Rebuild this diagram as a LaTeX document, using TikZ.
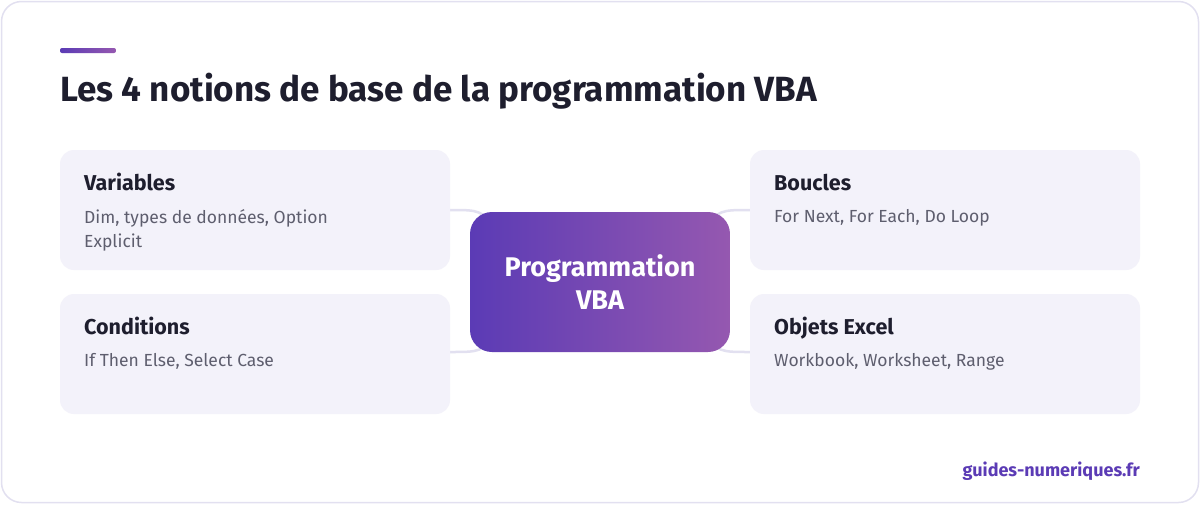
\documentclass[tikz,border=0pt]{standalone}
\usepackage{fontspec}
\setmainfont{Fira Sans}
\definecolor{cardbg}{HTML}{F3F2FA}
\definecolor{edge}{HTML}{E2E0F0}
\definecolor{dark}{HTML}{1E1E2E}
\definecolor{grey}{HTML}{5E5E6E}
\definecolor{pA}{HTML}{5B3BB5}
\definecolor{pB}{HTML}{9558B0}
\begin{document}
\begin{tikzpicture}[x=1pt,y=-1pt,
 card/.style={fill=cardbg,rounded corners=14pt},
 ttl/.style={anchor=base west,font=\fontsize{21.5}{24}\selectfont\bfseries,text=dark,inner sep=0},
 body/.style={anchor=north west,font=\fontsize{17.5}{24}\selectfont,text=grey,inner sep=0,align=left},
 conn/.style={draw=edge,line width=2.5pt}]
\useasboundingbox (0,0) rectangle (1200,504);
\draw[edge,line width=1.5pt,fill=white,rounded corners=20pt] (1.5,1.5) rectangle (1198.5,502.5);
\shade[left color=pA,right color=pB,rounded corners=2pt] (60,48) rectangle (116,53);
\node[anchor=base west,inner sep=0,font=\fontsize{35}{40}\selectfont\bfseries,text=dark] (title) at (60,101) {Les 4 notions de base de la programmation VBA};
% connectors
\coordinate (c1) at (450,210); \coordinate (c2) at (450,352);
\coordinate (c3) at (750,210); \coordinate (c4) at (750,352);
\coordinate (m1) at (500,230); \coordinate (m2) at (500,334);
\coordinate (m3) at (700,230); \coordinate (m4) at (700,334);
\draw[conn] (c1) .. controls (480,210) .. (m1);
\draw[conn] (c2) .. controls (480,352) .. (m2);
\draw[conn] (c3) .. controls (720,210) .. (m3);
\draw[conn] (c4) .. controls (720,352) .. (m4);
% cards
\fill[card] (60,150) rectangle (450,270);
\fill[card] (60,294) rectangle (450,414);
\fill[card] (750,150) rectangle (1140,270);
\fill[card] (750,294) rectangle (1140,414);
\node[ttl] (t1) at (84,190) {Variables};
\node[body] (b1) at (84,209) {Dim, types de données, Option\\Explicit};
\node[ttl] (t2) at (84,334) {Conditions};
\node[body] (b2) at (84,353) {If Then Else, Select Case};
\node[ttl] (t3) at (774,190) {Boucles};
\node[body] (b3) at (774,209) {For Next, For Each, Do Loop};
\node[ttl] (t4) at (774,334) {Objets Excel};
\node[body] (b4) at (774,353) {Workbook, Worksheet, Range};
% center
\shade[left color=pA,right color=pB,rounded corners=22pt] (470,212) rectangle (730,352);
\node[align=center,text=white,font=\fontsize{27}{33}\selectfont\bfseries] (center) at (600,282) {Programmation\\VBA};
\node[anchor=base east,inner sep=0,text=pA,font=\fontsize{18}{20}\selectfont\bfseries] (foot) at (1140,476) {guides-numeriques.fr};
\end{tikzpicture}
\end{document}
